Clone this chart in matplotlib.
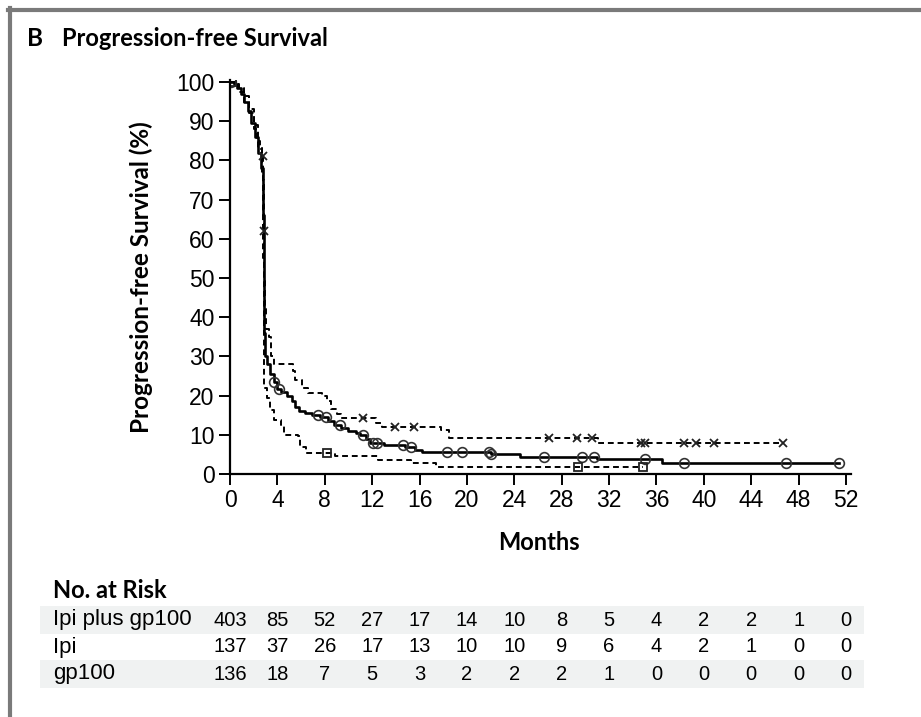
import numpy as np
import matplotlib
matplotlib.use("Agg")
import matplotlib.pyplot as plt
from matplotlib.lines import Line2D
from matplotlib.transforms import blended_transform_factory

# Kaplan-Meier steps (months, % progression-free)
combo_t = [0, 0.3, 0.6, 0.9, 1.2, 1.5, 1.8, 2.1, 2.4, 2.6, 2.75, 2.8, 2.85, 2.9, 2.95, 3.1, 3.4,
           3.7, 4.0, 4.3, 4.8, 5.2, 5.5, 5.8, 6.3, 6.9, 7.6, 8.3, 8.8, 9.4, 10.0, 10.6, 11.0,
           11.5, 11.8, 13.0, 14.8, 15.6, 16.2, 18.0, 20.8, 22.0, 23.2, 24.5, 31.0, 36.5, 51.4]
combo_s = [100, 99.5, 98.5, 97, 95, 92.5, 89.5, 86, 82, 78, 74, 66, 50, 36, 30, 28, 25.5,
           23.5, 21.8, 21, 19.8, 18.5, 17, 16, 15.5, 15, 14.5, 13.5, 12.5, 11.8, 11, 10.5, 10,
           9, 8, 7.5, 7, 6.2, 5.7, 5.6, 5.5, 5.2, 5.0, 4.4, 3.8, 2.9, 2.9]
combo_cens = [0.05, 3.7, 4.15, 7.4, 8.1, 9.25, 11.2, 12.05, 12.45, 14.6, 15.3, 18.3, 19.6, 21.9,
              22.0, 26.5, 29.7, 30.7, 35.05, 38.3, 46.9, 51.4]

ipi_t = [0, 0.4, 0.8, 1.2, 1.6, 2.0, 2.3, 2.5, 2.7, 2.8, 2.85, 2.9, 2.95, 3.0, 3.3, 3.5, 3.75,
         5.3, 5.5, 6.1, 6.6, 7.8, 8.2, 8.5, 9.0, 9.4, 12.3, 12.8, 17.8, 18.5, 31.1, 46.7]
ipi_s = [100, 99, 97.5, 95, 92, 88, 85, 83.5, 81, 75, 62, 50, 42, 37, 35, 30, 28,
         26.2, 24, 22, 20.7, 19.8, 18.5, 16.5, 15.2, 14.3, 13, 11.9, 11.3, 9.1, 7.9, 7.9]
ipi_cens = [2.75, 2.87, 11.2, 13.9, 15.5, 26.9, 29.3, 30.6, 34.7, 35.05, 38.3, 39.3, 40.9, 46.7]

gp_t = [0, 0.4, 0.8, 1.2, 1.6, 2.0, 2.4, 2.7, 2.8, 2.85, 2.9, 3.1, 3.4, 3.7, 4.3, 4.6, 5.7,
        5.9, 6.4, 8.9, 12.5, 15.3, 17.4, 34.9]
gp_s = [100, 99.5, 98.5, 96.5, 93, 89, 83, 76, 55, 35, 22, 19.5, 16.4, 13.8, 12.6, 10, 9.6,
        7, 5.3, 4.6, 3.6, 2.7, 1.7, 1.7]
gp_cens = [0.15, 8.2, 29.4, 34.9]

risk_months = np.arange(0, 53, 4)
risk_labels = ["Ipi plus gp100", "Ipi", "gp100"]
risk_combo = [403, 85, 52, 27, 17, 14, 10, 8, 5, 4, 2, 2, 1, 0]
risk_ipi = [137, 37, 26, 17, 13, 10, 10, 9, 6, 4, 2, 1, 0, 0]
risk_gp = [136, 18, 7, 5, 3, 2, 2, 2, 1, 0, 0, 0, 0, 0]

W, H = 921, 717
PLAIN = ["Liberation Sans", "DejaVu Sans"]
HEAD = ["Lato", "DejaVu Sans"]


def step_at(t, s, x):
    i = np.searchsorted(t, x, side="right") - 1
    return np.asarray(s)[i]


def fx(px):
    return px / W


def fy(py):
    return 1 - py / H


fig = plt.figure(figsize=(W / 100, H / 100), dpi=100)
ax = fig.add_axes([fx(230), fy(474), fx(620.7), (474 - 80) / H])

ax.step(combo_t, combo_s, where="post", color="black", lw=1.9)
ax.step(ipi_t, ipi_s, where="post", color="black", lw=1.4, dashes=(3, 2))
ax.step(gp_t, gp_s, where="post", color="black", lw=1.4, dashes=(3, 2))

ax.plot(combo_cens, step_at(combo_t, combo_s, combo_cens), ls="none", marker="o",
        ms=7, mfc="none", mec="#333333", mew=1.2)
ax.plot(ipi_cens, step_at(ipi_t, ipi_s, ipi_cens), ls="none", marker="x",
        ms=6, mec="#222222", mew=1.3)
ax.plot(gp_cens, step_at(gp_t, gp_s, gp_cens), ls="none", marker="s",
        ms=5.5, mfc="none", mec="#222222", mew=1.3)

ax.set_xlim(0, 52.4)
ax.set_ylim(0, 100.5)
ax.set_xticks(risk_months)
ax.set_yticks(np.arange(0, 101, 10))
for side in ["top", "right"]:
    ax.spines[side].set_visible(False)
for side in ["left", "bottom"]:
    ax.spines[side].set_linewidth(1.6)
ax.tick_params(direction="out", length=8, width=1.4, pad=3)
for lab in ax.get_xticklabels() + ax.get_yticklabels():
    lab.set_fontfamily(PLAIN)
    lab.set_fontsize(16.5)

ax.set_ylabel("Progression-free Survival (%)", family=HEAD, weight="bold", fontsize=17.5)
ax.yaxis.set_label_coords(-0.124, 0.5)

fig.text(fx(539), fy(543), "Months", ha="center", va="center", family=HEAD,
         weight="bold", fontsize=17)

# title and frame
fig.text(fx(27), fy(38), "B", ha="left", va="center", family=HEAD, weight="bold", fontsize=17.5)
fig.text(fx(62), fy(38), "Progression-free Survival", ha="left", va="center", family=HEAD,
         weight="bold", fontsize=17)
fig.add_artist(Line2D([fx(8), 1], [fy(10), fy(10)], color="#7a7a7a", lw=3))
fig.add_artist(Line2D([fx(10), fx(10)], [fy(8), 0], color="#7a7a7a", lw=3))

# number at risk table
fig.text(fx(53), fy(590), "No. at Risk", ha="left", va="center", family=HEAD,
         weight="bold", fontsize=17)
row_y = [620, 647, 674]
trans = blended_transform_factory(ax.transData, fig.transFigure)
for k, (lab, vals) in enumerate(zip(risk_labels, [risk_combo, risk_ipi, risk_gp])):
    if k != 1:
        fig.add_artist(plt.Rectangle((fx(40), fy(row_y[k] + 14)), fx(824), 28 / H,
                                     color="#f0f2f2", lw=0, zorder=0))
    fig.text(fx(53), fy(row_y[k]), lab, ha="left", va="center", family=PLAIN, fontsize=16)
    for m, v in zip(risk_months, vals):
        ax.text(m, fy(row_y[k]), str(v), transform=trans, ha="center", va="center",
                family=PLAIN, fontsize=14.5, clip_on=False)

fig.savefig("out.png", dpi=100)
